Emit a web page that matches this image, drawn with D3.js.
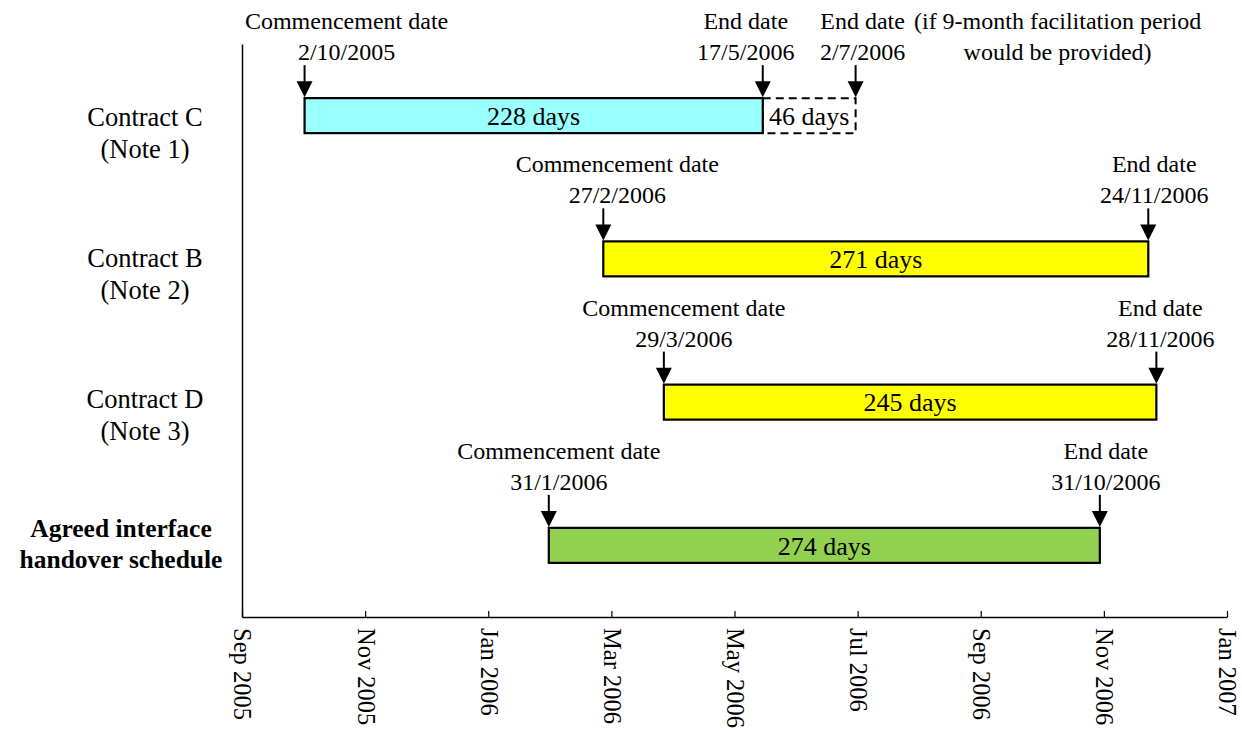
<!DOCTYPE html>
<html>
<head>
<meta charset="utf-8">
<script src="https://cdn.jsdelivr.net/npm/d3@7/dist/d3.min.js"></script>
<style>
  html, body { margin: 0; padding: 0; background: #fff; }
  svg { display: block; font-family: "Liberation Serif", "Times New Roman", serif; }
</style>
</head>
<body>
<svg id="chart" width="1242" height="731"></svg>
<script>
// Contract rows, top to bottom
const categories = ["Contract C", "Contract B", "Contract D", "Agreed interface handover schedule"];
const categoryLines = [["Contract C", "(Note 1)"], ["Contract B", "(Note 2)"], ["Contract D", "(Note 3)"], ["Agreed interface", "handover schedule"]];
const categoryBold = [false, false, false, true];

// Programme periods (day/month/year)
const startDates = ["2/10/2005", "27/2/2006", "29/3/2006", "31/1/2006"];
const endDates = ["17/5/2006", "24/11/2006", "28/11/2006", "31/10/2006"];
const durations = [228, 271, 245, 274];
const barColors = ["#99FFFF", "#FFFF00", "#FFFF00", "#92D050"];

// Possible extension of Contract C with a 9-month facilitation period
const extensionRow = "Contract C";
const extensionEnd = "2/7/2006";
const extensionDays = 46;

// Axis tick dates (ISO) and range
const axisStart = "2005-09-01";
const axisEnd = "2007-01-02";
const tickDates = ["2005-09-01", "2005-11-01", "2006-01-01", "2006-03-03", "2006-05-03",
                   "2006-07-03", "2006-09-02", "2006-11-02", "2007-01-02"];

// Horizontal nudges for the callout text blocks relative to their arrows
const startLabelShift = [42, 14, 20, 10];
const endLabelShift = [-17, 6, 4, 6];
const extensionLabelShift = 7;
const categoryLabelX = [145, 145, 145, 121];
const categoryFirstLineDy = [10, 8, 6, -8];

const parseDMY = d3.utcParse("%d/%m/%Y");
const parseISO = d3.utcParse("%Y-%m-%d");

const svg = d3.select("#chart");
const plotLeft = 242, plotRight = 1227, plotTop = 44, plotBottom = 617;

const x = d3.scaleUtc()
  .domain([parseISO(axisStart), parseISO(axisEnd)])
  .range([plotLeft, plotRight]);

const y = d3.scaleBand()
  .domain(categories)
  .range([plotTop, plotBottom]);

const barH = 35;
const barTop = c => y(c) + y.bandwidth() / 2 - barH / 2;

// Bottom time axis with inward ticks and vertical labels
const xAxis = d3.axisBottom(x)
  .tickValues(tickDates.map(parseISO))
  .tickFormat(d3.utcFormat("%b %Y"))
  .tickSizeInner(-6)
  .tickSizeOuter(0)
  .tickPadding(0);

const gx = svg.append("g")
  .attr("transform", `translate(0,${plotBottom})`)
  .call(xAxis);
gx.select(".domain").attr("stroke", "#000").attr("stroke-width", 1.5);
gx.selectAll(".tick line").attr("stroke", "#000").attr("stroke-width", 1.2);
gx.selectAll(".tick text")
  .attr("fill", "#000")
  .attr("font-size", 24.5)
  .attr("font-family", "Liberation Serif, serif")
  .attr("text-anchor", "start")
  .attr("transform", "translate(0,11) rotate(90)")
  .attr("x", 0)
  .attr("y", 0)
  .attr("dy", "0.33em");

// Left category axis (line only)
const gy = svg.append("g")
  .attr("transform", `translate(${plotLeft},0)`)
  .call(d3.axisLeft(y).tickSize(0).tickFormat(""));
gy.select(".domain").attr("stroke", "#000").attr("stroke-width", 1.5);

// Category labels
categories.forEach((c, i) => {
  const cy = y(c) + y.bandwidth() / 2;
  const t = svg.append("text")
    .attr("x", categoryLabelX[i])
    .attr("y", cy + categoryFirstLineDy[i])
    .attr("text-anchor", "middle")
    .attr("font-size", categoryBold[i] ? 25.5 : 26.5)
    .attr("font-weight", categoryBold[i] ? "bold" : "normal")
    .attr("fill", "#000");
  categoryLines[i].forEach((line, k) => {
    t.append("tspan")
      .attr("x", categoryLabelX[i])
      .attr("dy", k === 0 ? 0 : (categoryBold[i] ? 31 : 32))
      .text(line);
  });
});

// Extension (dashed) box
const extIdx = categories.indexOf(extensionRow);
const extX0 = x(parseDMY(endDates[extIdx]));
const extX1 = x(parseDMY(extensionEnd));
svg.append("rect")
  .attr("x", extX0)
  .attr("y", barTop(extensionRow))
  .attr("width", extX1 - extX0)
  .attr("height", barH)
  .attr("fill", "none")
  .attr("stroke", "#000")
  .attr("stroke-width", 2)
  .attr("stroke-dasharray", "8,5");
svg.append("text")
  .attr("x", (extX0 + extX1) / 2)
  .attr("y", barTop(extensionRow) + barH / 2)
  .attr("dy", "0.36em")
  .attr("text-anchor", "middle")
  .attr("font-size", 26)
  .text(`${extensionDays} days`);

// Bars
const rows = categories.map((c, i) => ({
  c, i,
  s: parseDMY(startDates[i]),
  e: parseDMY(endDates[i]),
  days: durations[i],
  color: barColors[i]
}));

svg.selectAll("rect.bar")
  .data(rows)
  .join("rect")
  .attr("class", "bar")
  .attr("x", d => x(d.s))
  .attr("y", d => barTop(d.c))
  .attr("width", d => x(d.e) - x(d.s))
  .attr("height", barH)
  .attr("fill", d => d.color)
  .attr("stroke", "#000")
  .attr("stroke-width", 2.2);

svg.selectAll("text.barlabel")
  .data(rows)
  .join("text")
  .attr("class", "barlabel")
  .attr("x", d => (x(d.s) + x(d.e)) / 2)
  .attr("y", d => barTop(d.c) + barH / 2)
  .attr("dy", "0.36em")
  .attr("text-anchor", "middle")
  .attr("font-size", 26)
  .text(d => `${d.days} days`);

// Downward arrow onto a bar edge
function arrow(px, yTip) {
  svg.append("line")
    .attr("x1", px).attr("x2", px)
    .attr("y1", yTip - 33).attr("y2", yTip - 12)
    .attr("stroke", "#000").attr("stroke-width", 2);
  svg.append("path")
    .attr("d", `M${px - 8},${yTip - 17} L${px + 8},${yTip - 17} L${px},${yTip - 1} Z`)
    .attr("fill", "#000");
}

// Two-line callout text above a bar
function callout(cx, yRef, lines) {
  const t = svg.append("text")
    .attr("text-anchor", "middle")
    .attr("font-size", 24)
    .attr("fill", "#000");
  lines.forEach((line, k) => {
    t.append("tspan")
      .attr("x", cx)
      .attr("y", yRef - 69 + k * 31)
      .text(line);
  });
}

const fmtDMY = d => `${d.getUTCDate()}/${d.getUTCMonth() + 1}/${d.getUTCFullYear()}`;

rows.forEach(d => {
  const t0 = barTop(d.c);
  const xs = x(d.s), xe = x(d.e);
  arrow(xs, t0);
  arrow(xe, t0);
  callout(xs + startLabelShift[d.i], t0, ["Commencement date", fmtDMY(d.s)]);
  callout(xe + endLabelShift[d.i], t0, ["End date", fmtDMY(d.e)]);
});

// Extension end arrow and its note
const extTop = barTop(extensionRow);
arrow(extX1, extTop);
callout(extX1 + extensionLabelShift, extTop, ["End date", fmtDMY(parseDMY(extensionEnd))]);
callout(extX1 + 202, extTop, ["(if 9-month facilitation period", "would be provided)"]);
</script>
</body>
</html>
